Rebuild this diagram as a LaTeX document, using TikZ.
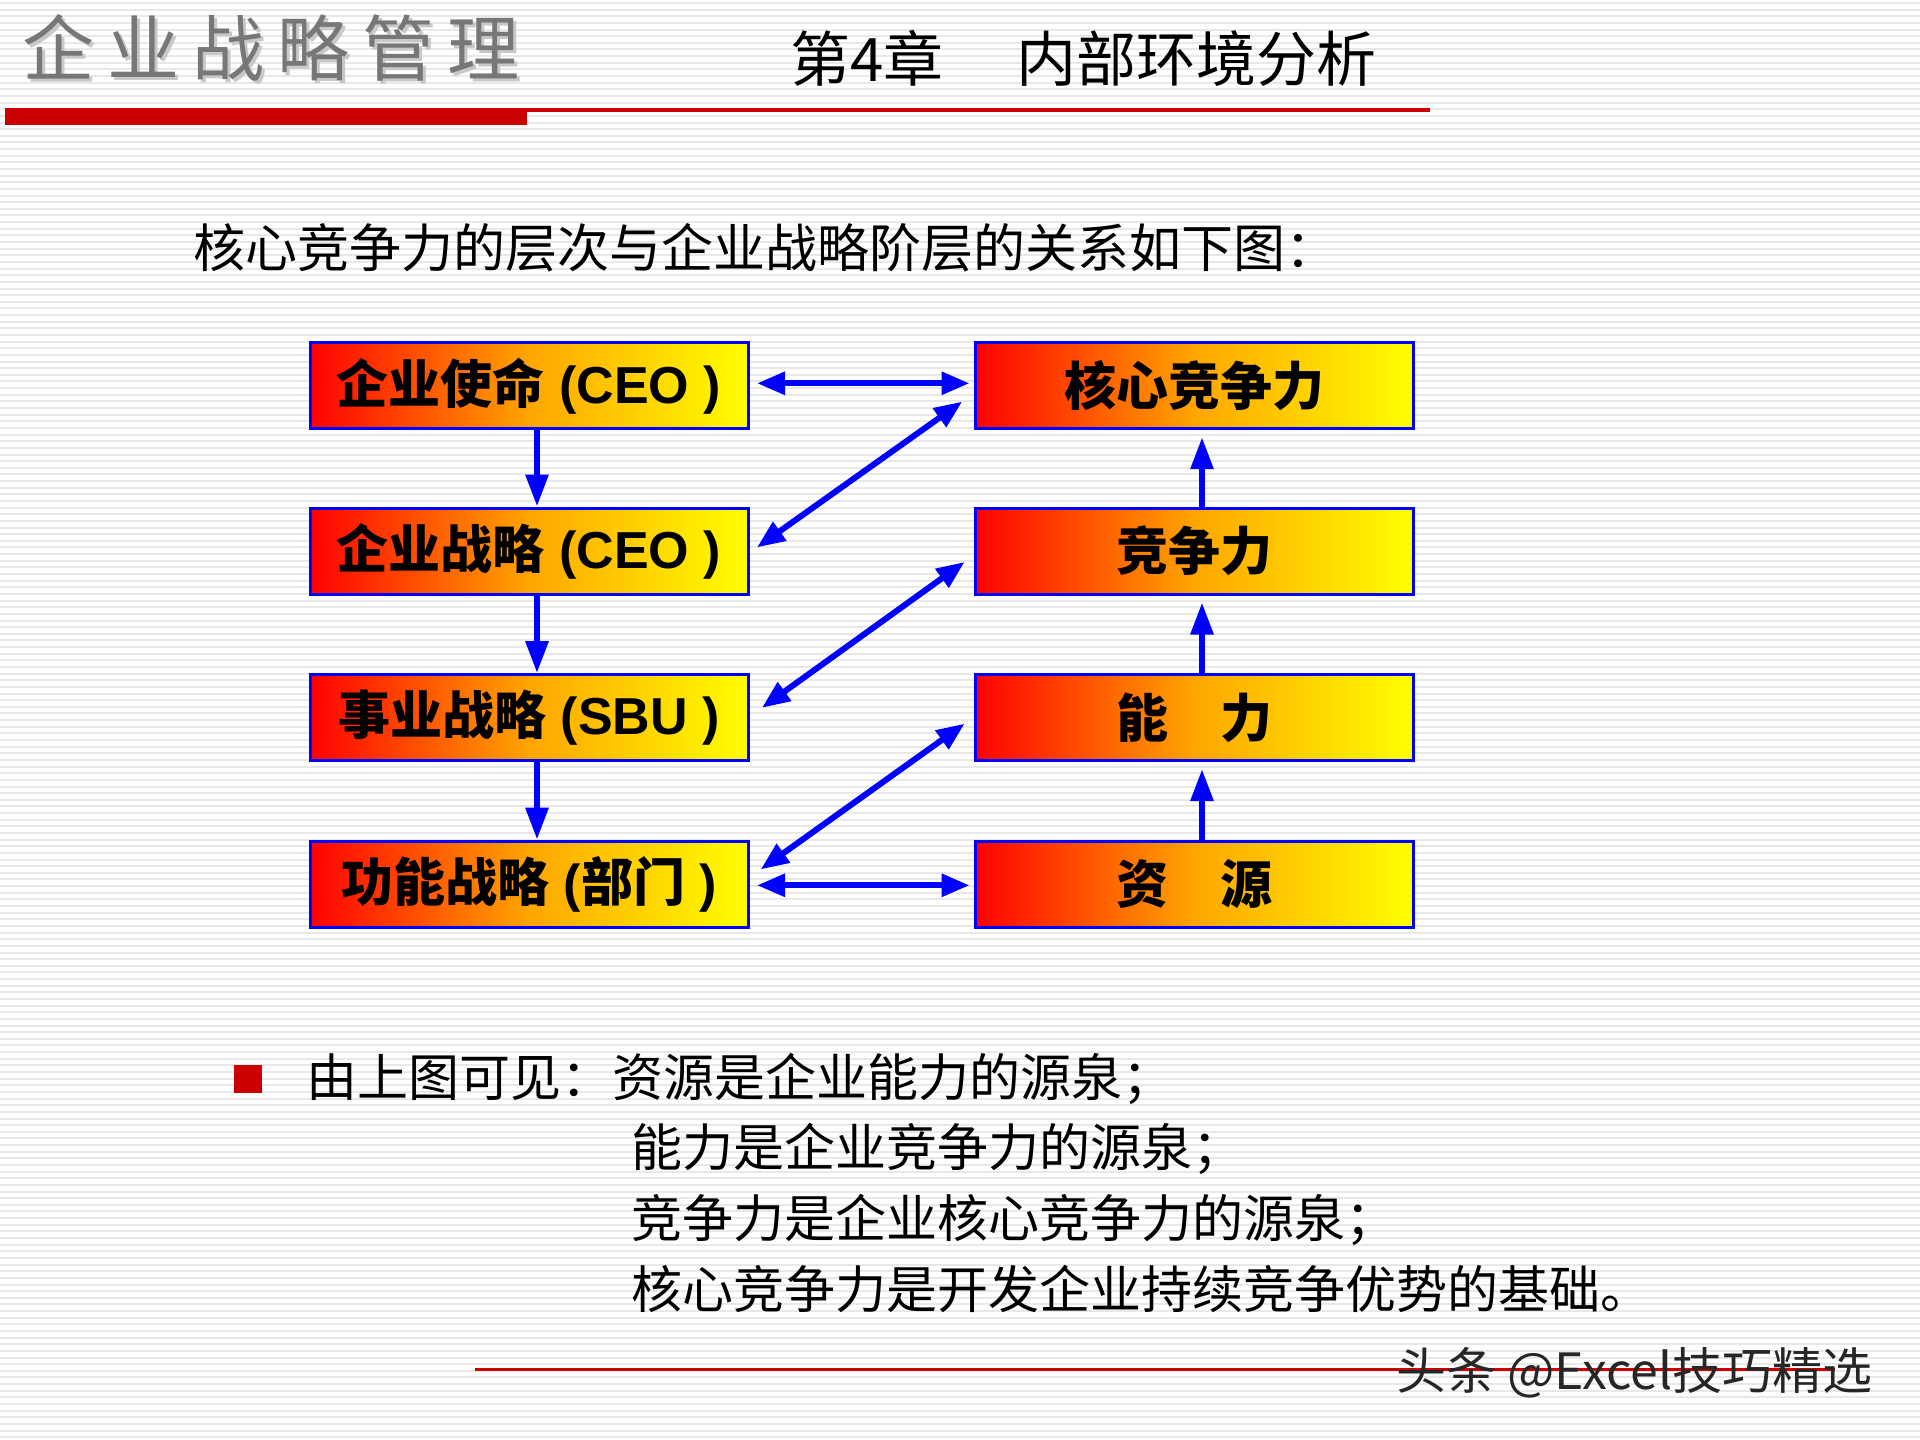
\documentclass[tikz,border=0pt]{standalone}
\usepackage{fontspec}
\setmainfont{Noto Sans CJK SC}
\newfontfamily\lat{Liberation Sans}
\usetikzlibrary{arrows.meta}
\definecolor{pptred}{HTML}{CC0000}
\definecolor{pptblue}{HTML}{0000FF}
\definecolor{stripecol}{HTML}{E8E8E8}
\definecolor{titlegray}{HTML}{777777}
\definecolor{shadowgray}{HTML}{C8C8C8}
\definecolor{midorange}{RGB}{255,165,0}
\begin{document}
\begin{tikzpicture}[x=1pt,y=-1pt,
  box/.style={draw=pptblue, line width=3pt, left color=red, right color=yellow,
    middle color=midorange,
    minimum width=438pt, minimum height=86pt, inner sep=0pt,
    font=\fontsize{52}{60}\selectfont\bfseries},
  arr/.style={draw=pptblue, line width=6pt, -{Triangle[length=32pt,width=22pt]}},
  dbl/.style={draw=pptblue, line width=6pt,
    {Triangle[length=28pt,width=22pt]}-{Triangle[length=28pt,width=22pt]}},
  txt/.style={anchor=west, inner sep=0pt, font=\fontsize{51}{60}\selectfont},
  ttl/.style={anchor=west, inner sep=0pt, font=\fontsize{72}{80}\selectfont},
]
\useasboundingbox (0,0) rectangle (1920,1440);
\fill[white] (0,0) rectangle (1920,1440);
\foreach \i in {0,...,216} \draw[stripecol, line width=2pt] (0,{\i*6.64+3}) -- (1920,{\i*6.64+3});

% header
\node[ttl, text=shadowgray] (titlesh) at (25,51)
  {企\hspace{13pt}业\hspace{13pt}战\hspace{13pt}略\hspace{13pt}管\hspace{13pt}理};
\node[ttl, text=titlegray] (title) at (22,48)
  {企\hspace{13pt}业\hspace{13pt}战\hspace{13pt}略\hspace{13pt}管\hspace{13pt}理};
\node[anchor=west, inner sep=0pt, font=\fontsize{60}{66}\selectfont] (chap) at (790,58)
  {第4章\hspace{73pt}内部环境分析};
\fill[pptred] (5,108) rectangle (527,125);
\fill[pptred] (527,108) rectangle (1430,111.5);

% subtitle
\node[txt, font=\fontsize{52}{60}\selectfont] (sub) at (193,248) {核心竞争力的层次与企业战略阶层的关系如下图：};

% boxes
\node[box] (L1) at (529,385.7) {企业使命{\lat\ (CEO )}};
\node[box] (L2) at (529,551.0) {企业战略{\lat\ (CEO )}};
\node[box] (L3) at (529,717.6) {事业战略{\lat\ (SBU )}};
\node[box] (L4) at (529,884.1) {功能战略{\lat\ (}部门{\lat\ )}};
\node[box] (R1) at (1194,385.7) {核心竞争力};
\node[box] (R2) at (1194,551.0) {竞争力};
\node[box] (R3) at (1194,717.6) {能　力};
\node[box] (R4) at (1194,884.1) {资　源};

% left vertical arrows
\draw[arr] ([xshift=8pt]L1.south) -- ([xshift=8pt]L2.north);
\draw[arr] ([xshift=8pt]L2.south) -- ([xshift=8pt]L3.north);
\draw[arr] ([xshift=8pt]L3.south) -- ([xshift=8pt]L4.north);
% right vertical arrows
\draw[arr] ([xshift=8pt]R4.north) -- ([xshift=8pt,yshift=-7pt]R3.south);
\draw[arr] ([xshift=8pt]R3.north) -- ([xshift=8pt,yshift=-7pt]R2.south);
\draw[arr] ([xshift=8pt]R2.north) -- ([xshift=8pt,yshift=-7pt]R1.south);
% horizontal double arrows
\draw[dbl] ([xshift=7.5pt,yshift=2.4pt]L1.east) -- ([xshift=-4pt,yshift=2.4pt]R1.west);
\draw[dbl] ([xshift=7.5pt,yshift=-1.2pt]L4.east) -- ([xshift=-4pt,yshift=-1.2pt]R4.west);
% diagonal double arrows
\draw[dbl] ([xshift=7.5pt,yshift=3.6pt]L2.east) -- ([xshift=-11.3pt,yshift=-15.9pt]R1.west);
\draw[dbl] ([xshift=12.4pt,yshift=9.8pt]L3.east) -- ([xshift=-8.9pt,yshift=-11pt]R2.west);
\draw[dbl] ([xshift=11.2pt,yshift=14.7pt]L4.east) -- ([xshift=-8.9pt,yshift=-6.1pt]R3.west);

% bullet text
\node[fill=pptred, minimum size=28pt, inner sep=0pt] (bul) at (248,1079) {};
\node[txt] (b1) at (306,1079) {由上图可见：资源是企业能力的源泉；};
\node[txt] (b2) at (631,1149) {能力是企业竞争力的源泉；};
\node[txt] (b3) at (631,1220) {竞争力是企业核心竞争力的源泉；};
\node[txt] (b4) at (631,1289) {核心竞争力是开发企业持续竞争优势的基础。};

% footer
\fill[pptred] (475,1367.5) rectangle (1835,1371);
\node[anchor=west, inner sep=0pt, text=black!85, font=\fontsize{50}{56}\selectfont] (wm) at (1396,1373) {头条 @Excel技巧精选};
\end{tikzpicture}
\end{document}
